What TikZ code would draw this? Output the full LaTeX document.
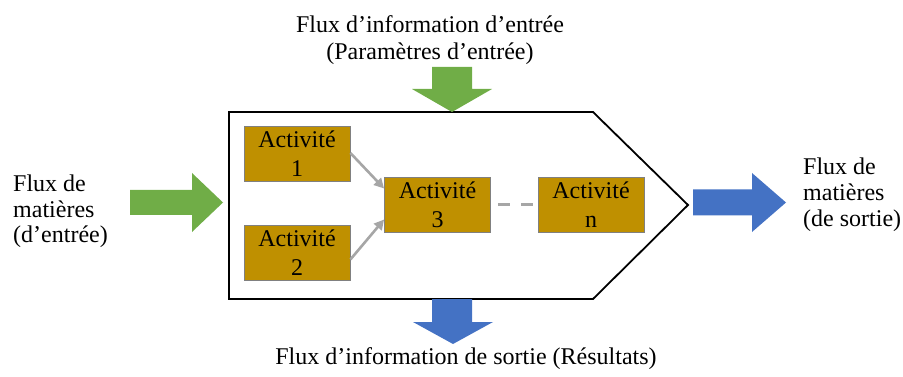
\documentclass[tikz,border=0pt]{standalone}
\usepackage{fontspec}
\setmainfont{Liberation Serif}
\usetikzlibrary{arrows.meta,calc}
\definecolor{mygreen}{HTML}{70AD47}
\definecolor{myblue}{HTML}{4472C4}
\definecolor{mygold}{HTML}{BF9000}
\definecolor{mygray}{HTML}{A6A6A6}
\definecolor{boxline}{HTML}{808080}
\begin{document}
\begin{tikzpicture}[x=1pt,y=-1pt,
  act/.style={draw=boxline, line width=0.8pt, fill=mygold, minimum width=106pt,
    minimum height=55pt, inner sep=0pt, align=center,
    font=\fontsize{24}{29}\selectfont},
  lbl/.style={inner sep=0pt, text=black},
  link/.style={draw=mygray, line width=2.6pt, -{Triangle[length=10pt,width=10pt]}},
  dashlink/.style={draw=mygray, line width=2.6pt, dash pattern=on 12pt off 11pt},
  frame/.style={draw=black, line width=1.8pt, line join=miter},
  gblock/.style={fill=mygreen},
  bblock/.style={fill=myblue}]
\useasboundingbox (0,0) rectangle (903,377);

% process pentagon
\draw[frame] (229,112) -- (593,112) -- (688,205) -- (593,299) -- (229,299) -- cycle;

% block arrows
\fill[gblock] (130,190) -- (192,190) -- (192,173) -- (223,202.5) -- (192,232) -- (192,215) -- (130,215) -- cycle;
\fill[bblock] (693,189.5) -- (752,189.5) -- (752,173) -- (786,202.5) -- (752,232) -- (752,215.5) -- (693,215.5) -- cycle;
\fill[gblock] (432,67) -- (472,67) -- (472,89) -- (492,89) -- (452,112) -- (412,89) -- (432,89) -- cycle;
\fill[bblock] (432,299) -- (472,299) -- (472,322) -- (493,322) -- (453,344) -- (413,322) -- (432,322) -- cycle;

% activities
\node[act] (a1) at (297,153.5) {Activité\\1};
\node[act] (a2) at (297,252.5) {Activité\\2};
\node[act] (a3) at (437.5,204.5) {Activité\\3};
\node[act] (an) at (591,204.5) {Activité\\n};

\draw[link] ([yshift=0.5pt]a1.east) -- ([yshift=16pt]a3.west);
\draw[link] ([yshift=-7pt]a2.east) -- ([yshift=-15pt]a3.west);
\draw[dashlink] ([xshift=7pt]a3.east) -- ([xshift=-5pt]an.west);

% labels
\node[lbl, anchor=north, align=center, font=\fontsize{24}{27}\selectfont] (tin) at (430,15)
  {Flux d’information d’entrée\\(Paramètres d’entrée)};
\node[lbl, anchor=base, font=\fontsize{24}{27}\selectfont] (tout) at (466,364)
  {Flux d’information de sortie (Résultats)};
\node[lbl, anchor=north west, align=left, font=\fontsize{24}{25.5}\selectfont] (lin) at (13,175)
  {Flux de\\matières\\(d’entrée)};
\node[lbl, anchor=north west, align=left, font=\fontsize{24}{26}\selectfont] (rout) at (803,158)
  {Flux de\\matières\\(de sortie)};
\end{tikzpicture}
\end{document}
